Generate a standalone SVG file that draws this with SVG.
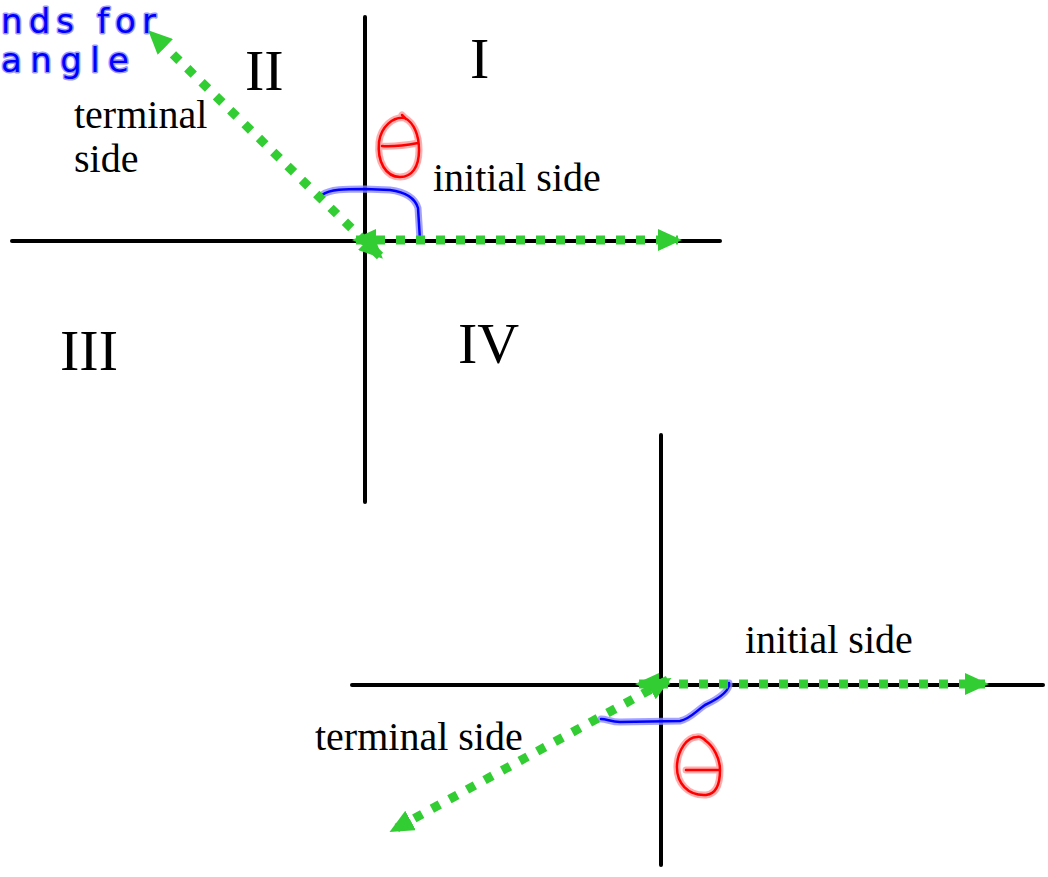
<svg xmlns="http://www.w3.org/2000/svg" width="1048" height="877" viewBox="0 0 1048 877">
<style>
.axis{stroke:#000;stroke-width:4;stroke-linecap:round;fill:none}
.ray{stroke:#32cd32;stroke-width:9;stroke-dasharray:9 11;fill:none}
.lbl{font-family:"Liberation Serif","Times New Roman",serif;font-size:40px;fill:#000}
.quad{font-family:"Liberation Serif","Times New Roman",serif;font-size:58px;fill:#000}
.halo-b{stroke:#8c8cff;stroke-width:7;fill:none;stroke-linecap:round;stroke-linejoin:round;opacity:0.8}
.ink-b{stroke:#0000ff;stroke-width:2.5;fill:none;stroke-linecap:round;stroke-linejoin:round}
.halo-r{stroke:#ff9a9a;stroke-width:7;fill:none;stroke-linecap:round;stroke-linejoin:round;opacity:0.8}
.ink-r{stroke:#ff0000;stroke-width:2.5;fill:none;stroke-linecap:round;stroke-linejoin:round}
.hand{font-family:"DejaVu Sans","Noto Sans",sans-serif;font-size:34px;fill:#0000ff;stroke:#9a9aff;stroke-width:3;paint-order:stroke;stroke-linejoin:round}
</style>
<defs>
<marker id="ah" viewBox="0 0 24 22" refX="20" refY="11" markerWidth="24" markerHeight="22" markerUnits="userSpaceOnUse" orient="auto-start-reverse">
<path d="M0,0 L24,11 L0,22 Z" fill="#32cd32"/>
</marker>
</defs>
<rect width="1048" height="877" fill="#fff"/>

<g id="note">
<text class="hand" x="1" y="33" textLength="155" lengthAdjust="spacing">nds for</text>
<text class="hand" x="1" y="72" textLength="128" lengthAdjust="spacing">angle</text>
</g>

<g id="axes-top">
<line class="axis" x1="365" y1="17" x2="365" y2="502"/>
<line class="axis" x1="12" y1="241" x2="720" y2="241"/>
</g>
<g id="axes-bottom">
<line class="axis" x1="661" y1="435" x2="661" y2="865"/>
<line class="axis" x1="352" y1="685" x2="1043" y2="685"/>
</g>

<g id="angle-marks">
<path class="halo-b" d="M322,195 C330,189 345,189 365,189 L390,190 C405,192 415,198 418,208 L420,240"/>
<path class="ink-b" d="M322,195 C330,189 345,189 365,189 L390,190 C405,192 415,198 418,208 L420,240"/>
<path class="halo-b" d="M601,719 C607,719 611,722 620,722 L680,721 C690,719 695,712 705,705 C720,698 730,690 729,683"/>
<path class="ink-b" d="M601,719 C607,719 611,722 620,722 L680,721 C690,719 695,712 705,705 C720,698 730,690 729,683"/>
</g>

<g id="theta-top">
<path class="halo-r" d="M405,118 C393,116 381,127 379,142 C377,162 386,177 400,177 C412,177 419,167 419,150 C419,135 414,123 405,118 M402,115 L406,119 M382,146 C395,147 407,145 418,143"/>
<path class="ink-r" d="M405,118 C393,116 381,127 379,142 C377,162 386,177 400,177 C412,177 419,167 419,150 C419,135 414,123 405,118 M402,115 L406,119 M382,146 C395,147 407,145 418,143"/>
</g>
<g id="theta-bottom">
<path class="halo-r" d="M697,737 C687,737 678,750 677,765 C676,783 688,796 706,795 C716,794 720,784 720,770 C720,758 713,746 706,741 C703,738 700,736 697,737 M686,770 L720,770"/>
<path class="ink-r" d="M697,737 C687,737 678,750 677,765 C676,783 688,796 706,795 C716,794 720,784 720,770 C720,758 713,746 706,741 C703,738 700,736 697,737 M686,770 L720,770"/>
</g>

<g id="connectors">
<line class="ray" x1="356" y1="240" x2="678" y2="240" marker-start="url(#ah)" marker-end="url(#ah)"/>
<line class="ray" x1="380" y1="256" x2="151" y2="33" marker-start="url(#ah)" marker-end="url(#ah)"/>
<line class="ray" x1="639" y1="684" x2="985" y2="684" marker-start="url(#ah)" marker-end="url(#ah)"/>
<line class="ray" x1="668" y1="680" x2="393" y2="830" marker-start="url(#ah)" marker-end="url(#ah)"/>
</g>

<g id="labels">
<text class="quad" x="470" y="78">I</text>
<text class="quad" x="245" y="90">II</text>
<text class="quad" x="60" y="370">III</text>
<text class="quad" x="458" y="363">IV</text>
<text class="lbl" x="74" y="128">terminal</text>
<text class="lbl" x="74" y="172">side</text>
<text class="lbl" x="433" y="191">initial side</text>
<text class="lbl" x="745" y="653">initial side</text>
<text class="lbl" x="315" y="750">terminal side</text>
</g>
</svg>
